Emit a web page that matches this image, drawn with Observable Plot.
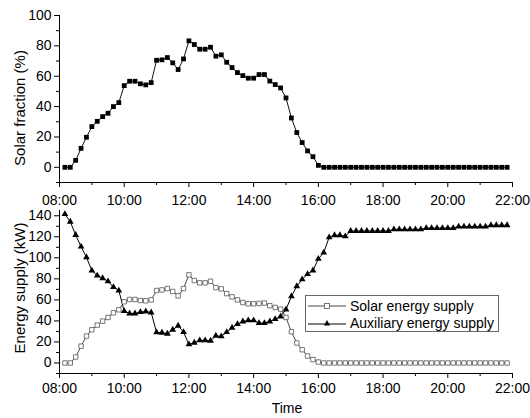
<!DOCTYPE html>
<html><head><meta charset="utf-8">
<script src="https://cdn.jsdelivr.net/npm/d3@7"></script>
<script src="https://cdn.jsdelivr.net/npm/@observablehq/plot@0.6"></script>
<style>
body{margin:0;background:#fff;font-family:"Liberation Sans",Arial,sans-serif;color:#000}
#wrap{position:relative;width:530px;height:418px;overflow:hidden;background:#fff}
#wrap svg.plot{position:absolute;left:0}
.lab{position:absolute;white-space:nowrap;line-height:1}
.ylab{font-size:15px;transform:translate(-50%,-50%) rotate(-90deg)}
#legend{position:absolute;left:305px;top:295px;width:194px;height:37px;border:1px solid #666;box-sizing:border-box;font-size:14px;background:#fff}
#legend .row{position:absolute;left:0;width:200px;height:16px;display:flex;align-items:center;white-space:nowrap}
#legend .row span{margin-left:2px;white-space:nowrap}
</style></head>
<body>
<div id="wrap"></div>
<script>
const timeLabels = ["08:10","08:20","08:30","08:40","08:50","09:00","09:10","09:20","09:30","09:40","09:50",
"10:00","10:10","10:20","10:30","10:40","10:50","11:00","11:10","11:20","11:30","11:40","11:50",
"12:00","12:10","12:20","12:30","12:40","12:50","13:00","13:10","13:20","13:30","13:40","13:50",
"14:00","14:10","14:20","14:30","14:40","14:50","15:00","15:10","15:20","15:30","15:40","15:50",
"16:00","16:10","16:20","16:30","16:40","16:50","17:00","17:10","17:20","17:30","17:40","17:50",
"18:00","18:10","18:20","18:30","18:40","18:50","19:00","19:10","19:20","19:30","19:40","19:50",
"20:00","20:10","20:20","20:30","20:40","20:50","21:00","21:10","21:20","21:30","21:40","21:50"];

const solarFraction = [0,0,4.6,12.5,19.8,26.8,30.3,33.4,35.6,40,42.6,
53.8,56.7,56.7,55,54.3,55.8,70.5,70.8,72.3,68.8,64.4,71.4,
83.3,80.9,77.8,77.8,79.1,73.2,74.1,69.2,65.7,62.4,60.4,58.7,
58.7,61.1,61.1,56.8,54.5,52.3,45.7,32.5,22.9,16.3,10.8,7.0,
1.3,0,0,0,0,0,0,0,0,0,0,0,
0,0,0,0,0,0,0,0,0,0,0,0,
0,0,0,0,0,0,0,0,0,0,0,0];

const solarSupply = [0,0,5.7,16,25.6,31.6,36,39.8,43.3,47.7,50.6,
58.2,60.4,60.4,59.4,59.1,60,68.9,69.5,70.8,68,63.8,70.8,
83.8,78.4,76.2,76.2,77.7,71.7,70.5,66,62.9,60,57.5,56.3,
56.3,56.6,57,54.5,52.8,51.2,43.3,29.7,19,12.6,6.6,3.2,
0.9,0,0,0,0,0,0,0,0,0,0,0,
0,0,0,0,0,0,0,0,0,0,0,0,
0,0,0,0,0,0,0,0,0,0,0,0];

const auxSupply = [141.6,134.3,121.7,110.6,100.5,87.9,83.1,80.6,77.7,72.1,68.9,
49.3,47.1,47.1,48.4,49,48,29.1,28.8,27.8,31.6,35.4,29.4,
17.7,19.3,21.5,21.5,21.2,25.9,25.3,29.4,33.5,37,39.5,40.5,
40.5,37.9,37.9,39.5,41.7,44.2,50.9,63.3,73,79.5,84.5,88,
99,105,119.5,121.5,121.5,120.5,125.5,125.5,125.5,125.5,125.5,125.5,
125.5,125.5,127,127,127,127,127,127,128.3,128.3,128.3,128.3,
128.3,128.3,129.7,129.7,129.7,129.7,129.7,129.7,131,131,131,131];

const xDomainLabels = ["08:00","22:00"];
const xTickLabels = ["08:00","10:00","12:00","14:00","16:00","18:00","20:00","22:00"];
const xMinorLabels = ["09:00","11:00","13:00","15:00","17:00","19:00","21:00"];
const topYDomain = [-10,100];
const topYTicks = [0,20,40,60,80,100];
const topYMinor = [-10,10,30,50,70,90];
const botYDomain = [-10,145];
const botYTicks = [0,20,40,60,80,100,120,140];
const botYMinor = [-10,10,30,50,70,90,110,130];

const parse = d3.utcParse("%H:%M");
const xDomain = xDomainLabels.map(parse);
const xTicks = xTickLabels.map(parse);
const xMinor = xMinorLabels.map(parse);

const topData = timeLabels.map((t,i)=>({t:parse(t), v:solarFraction[i]}));
const solarData = timeLabels.map((t,i)=>({t:parse(t), v:solarSupply[i]}));
const auxData = timeLabels.map((t,i)=>({t:parse(t), v:auxSupply[i]}));

const font = '"Liberation Sans",Arial,sans-serif';
const baseStyle = {fontFamily:font, fontSize:"14px", color:"#000", background:"transparent", overflow:"visible"};

function axes(yTicks, yMinor, yDomain, xPad){
  return [
    Plot.axisX({ticks:xTicks, tickFormat:d3.utcFormat("%H:%M"), tickSize:5, tickPadding:xPad, label:null, stroke:"#000", strokeWidth:1}),
    Plot.axisX({ticks:xMinor, tickFormat:()=>"", tickSize:3, label:null, stroke:"#000", strokeWidth:1}),
    Plot.axisY({ticks:yTicks, tickSize:5, tickPadding:3, label:null, stroke:"#000", strokeWidth:1}),
    Plot.axisY({ticks:yMinor, tickFormat:()=>"", tickSize:3, label:null, stroke:"#000", strokeWidth:1}),
    Plot.ruleX([xDomain[0]], {stroke:"#000", strokeWidth:1}),
    Plot.ruleY([yDomain[0]], {stroke:"#000", strokeWidth:1})
  ];
}

const topChart = Plot.plot({
  width:530, height:205, marginTop:15, marginBottom:23, marginLeft:59, marginRight:18,
  style:baseStyle,
  x:{type:"utc", domain:xDomain},
  y:{domain:topYDomain},
  marks:[
    ...axes(topYTicks, topYMinor, topYDomain, 8),
    Plot.line(topData, {x:"t", y:"v", stroke:"#111", strokeWidth:1}),
    Plot.dot(topData, {x:"t", y:"v", symbol:"square", r:2.7, fill:"#000", stroke:"none"})
  ]
});
topChart.classList.add("plot");
topChart.style.top = "0px";

const botChart = Plot.plot({
  width:530, height:218, marginTop:10, marginBottom:45, marginLeft:59, marginRight:18,
  style:baseStyle,
  x:{type:"utc", domain:xDomain},
  y:{domain:botYDomain},
  marks:[
    ...axes(botYTicks, botYMinor, botYDomain, 5),
    Plot.line(solarData, {x:"t", y:"v", stroke:"#333", strokeWidth:0.9}),
    Plot.line(auxData, {x:"t", y:"v", stroke:"#000", strokeWidth:1}),
    Plot.dot(solarData, {x:"t", y:"v", symbol:"square", r:2.5, fill:"#fff", stroke:"#555", strokeWidth:0.8}),
    Plot.dot(auxData, {x:"t", y:"v", symbol:"triangle", r:2.5, fill:"#000", stroke:"none"})
  ]
});
botChart.classList.add("plot");
botChart.style.top = "200px";

const wrap = document.getElementById("wrap");
wrap.appendChild(topChart);
wrap.appendChild(botChart);

function addLabel(text, cls, left, topPx, extra){
  const d = document.createElement("div");
  d.className = "lab " + cls;
  d.textContent = text;
  d.style.left = left + "px";
  d.style.top = topPx + "px";
  if (extra) Object.assign(d.style, extra);
  wrap.appendChild(d);
}
addLabel("Solar fraction (%)", "ylab", 19, 108);
addLabel("Energy supply (kW)", "ylab", 19, 288);
addLabel("Time", "", 287, 408, {fontSize:"14px", transform:"translate(-50%,-50%)"});

const legend = document.createElement("div");
legend.id = "legend";
legend.innerHTML = `
<div class="row" style="top:2px">
 <svg width="42" height="12"><line x1="2" y1="6" x2="40" y2="6" stroke="#333" stroke-width="0.9"/><rect x="18.5" y="3.5" width="5" height="5" fill="#fff" stroke="#555" stroke-width="0.8"/></svg>
 <span>Solar energy supply</span></div>
<div class="row" style="top:19px">
 <svg width="42" height="12"><line x1="2" y1="7" x2="40" y2="7" stroke="#000" stroke-width="1"/><path d="M21,3 L24,8.5 L18,8.5 Z" fill="#000"/></svg>
 <span>Auxiliary energy supply</span></div>`;
wrap.appendChild(legend);
</script>
</body></html>
